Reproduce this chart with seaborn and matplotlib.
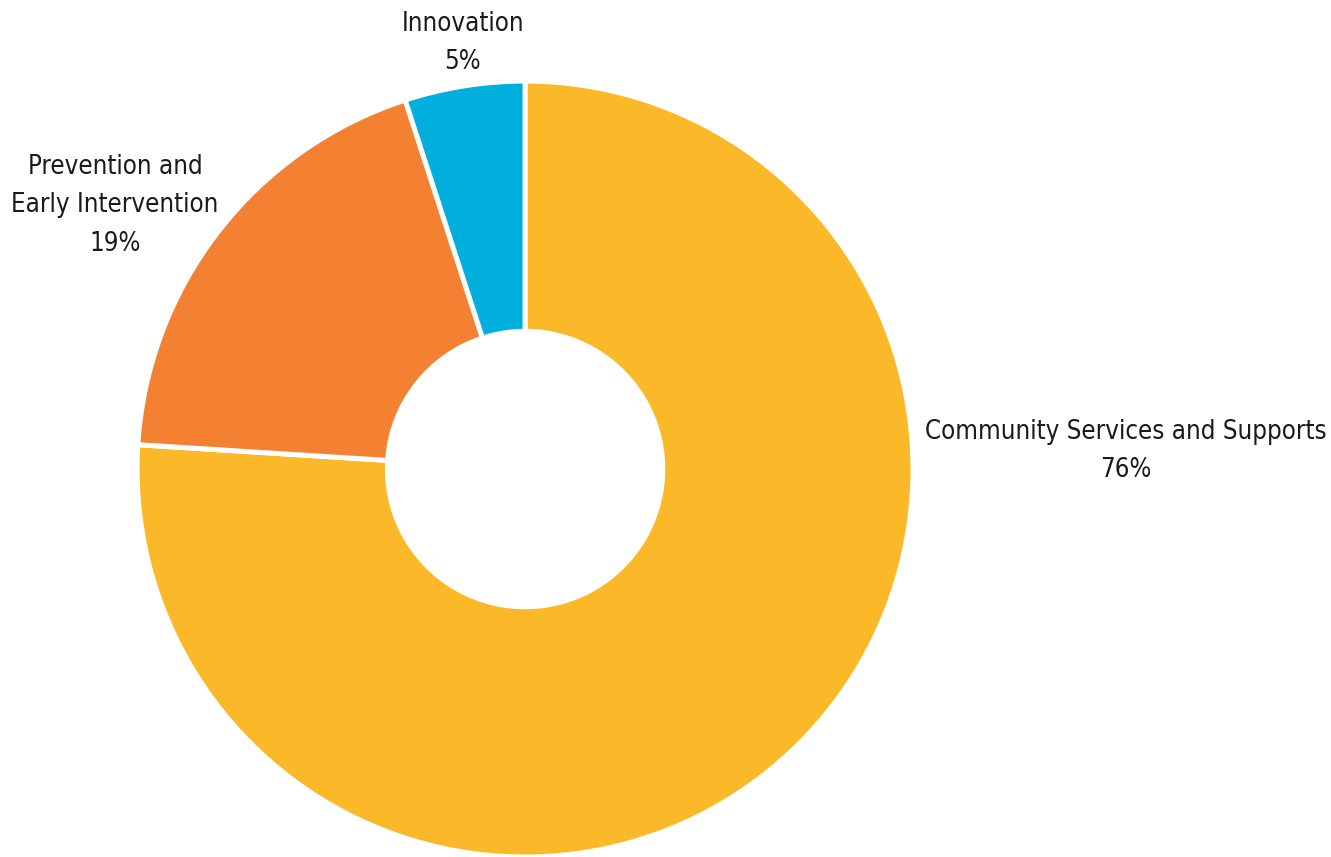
import matplotlib
matplotlib.use("Agg")
import matplotlib.pyplot as plt
from matplotlib import font_manager
import seaborn as sns

# Funding shares by component
categories = ["Community Services and Supports", "Prevention and\nEarly Intervention", "Innovation"]
shares = [76, 19, 5]
colors = ["#FBB829", "#F48032", "#00AFDB"]

sns.set_theme(style="white")
plt.rcParams["font.family"] = ["DejaVu Sans"]

# prefer an upright narrow face for the labels when one is available
narrow = None
for f in font_manager.fontManager.ttflist:
    if (f.name == "DejaVu Sans" and f.stretch in ("condensed", "semi-condensed")
            and f.weight in (400, "normal", "regular") and f.style == "normal"):
        narrow = f.fname
        break
if narrow is None:
    for f in font_manager.fontManager.ttflist:
        if ("Narrow" in f.name or "Condensed" in f.name) and f.style == "normal" \
                and f.weight in (400, "normal", "regular"):
            narrow = f.fname
            break
label_font = font_manager.FontProperties(fname=narrow, size=18.5) if narrow else \
    font_manager.FontProperties(family="DejaVu Sans", size=16.5)

fig = plt.figure(figsize=(13.31, 8.57), dpi=100)
ax = fig.add_axes([0, 0, 1, 1])

wedges, _ = ax.pie(
    shares,
    colors=colors,
    startangle=90,
    counterclock=False,
    radius=1.0,
    wedgeprops=dict(width=0.645, edgecolor="white", linewidth=3.6),
)

# label placement (data units, pie radius = 1)
label_pos = [(1.549, 0.046), (-1.057, 0.680), (-0.160, 1.098)]
for name, val, (x, y) in zip(categories, shares, label_pos):
    ax.text(x, y, f"{name}\n{val}%", ha="center", va="center",
            fontproperties=label_font, color="#1a1a1a", linespacing=1.62)

ax.set_xlim(-1.353, 2.077)
ax.set_ylim(-1.0, 1.209)
ax.set_aspect("equal")
ax.axis("off")

fig.savefig("out.png", dpi=100)
